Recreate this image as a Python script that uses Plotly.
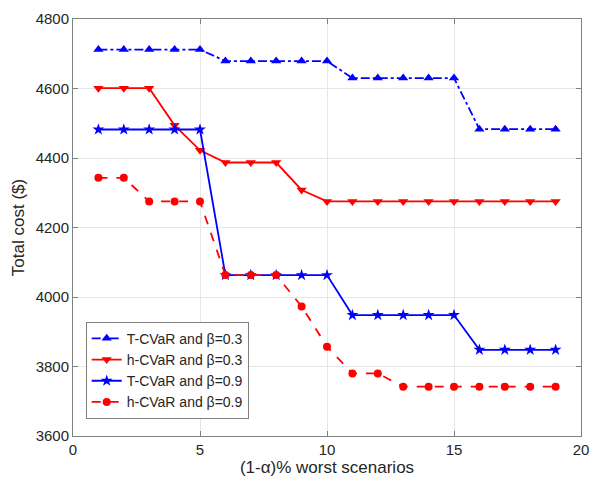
import plotly.graph_objects as go

x = list(range(1, 20))
t_cvar_03 = [4712]*5 + [4679]*5 + [4630]*5 + [4483]*4
h_cvar_03 = [4601, 4601, 4601, 4494, 4422, 4387, 4387, 4387, 4308] + [4275]*10
t_cvar_09 = [4482]*5 + [4063]*5 + [3948]*5 + [3848]*4
h_cvar_09 = [4343, 4343, 4275, 4275, 4275, 4063, 4063, 4063, 3973, 3857, 3780, 3780] + [3742]*7

names = ["T-CVaR and β=0.3", "h-CVaR and β=0.3", "T-CVaR and β=0.9", "h-CVaR and β=0.9"]

fig = go.Figure()
fig.add_trace(go.Scatter(x=x, y=t_cvar_03, name=names[0], mode="lines+markers",
                         line=dict(color="#0000ff", width=1.8, dash="dashdot"),
                         marker=dict(symbol="triangle-up", size=9, color="#0000ff")))
fig.add_trace(go.Scatter(x=x, y=h_cvar_03, name=names[1], mode="lines+markers",
                         line=dict(color="#ff0000", width=1.8),
                         marker=dict(symbol="triangle-down", size=9, color="#ff0000")))
fig.add_trace(go.Scatter(x=x, y=t_cvar_09, name=names[2], mode="lines+markers",
                         line=dict(color="#0000ff", width=1.8),
                         marker=dict(symbol="star", size=9, color="#0000ff")))
fig.add_trace(go.Scatter(x=x, y=h_cvar_09, name=names[3], mode="lines+markers",
                         line=dict(color="#ff0000", width=1.8, dash="dash"),
                         marker=dict(symbol="circle", size=8, color="#ff0000")))

axis_common = dict(showline=True, linecolor="#808080", linewidth=1, mirror="ticks",
                   ticks="inside", ticklen=5, tickcolor="#808080",
                   showgrid=True, gridcolor="#e6e6e6", zeroline=False,
                   tickfont=dict(family="Liberation Sans, Arial", size=15, color="#262626"))

fig.update_layout(
    width=599, height=487,
    margin=dict(l=73, r=10, t=15, b=51),
    plot_bgcolor="white", paper_bgcolor="white",
    font=dict(family="Liberation Sans, Arial", size=15, color="#262626"),
    xaxis=dict(range=[0, 20], dtick=5, title=dict(text="(1-α)% worst scenarios", standoff=4,
               font=dict(size=17)), **axis_common),
    yaxis=dict(range=[3600, 4800], dtick=200, title=dict(text="Total cost ($)", standoff=6,
               font=dict(size=17)), **axis_common),
    legend=dict(x=0.025, y=0.274, xanchor="left", yanchor="top",
                bgcolor="white", bordercolor="#808080", borderwidth=1,
                font=dict(size=14, color="#262626"), tracegroupgap=0, itemwidth=30),
)

fig.write_html("out.html")
